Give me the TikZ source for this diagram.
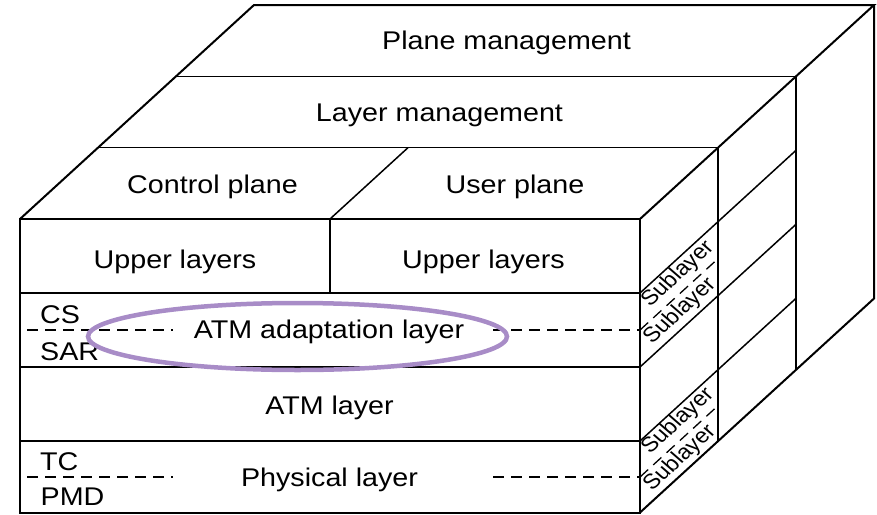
\documentclass[tikz,border=0pt]{standalone}
\usepackage{fontspec}
\setmainfont{Liberation Sans}
\definecolor{ovalpurple}{RGB}{168,140,199}
\begin{document}
\begin{tikzpicture}[x=1pt,y=-1pt,
  edge/.style={line width=1.5pt, line join=miter},
  outline/.style={line width=2pt, line join=miter},
  splitdash/.style={line width=1.3pt, dash pattern=on 11pt off 7pt},
  lbl/.style={inner sep=0pt, anchor=base, xscale=1.12, font=\fontsize{25.6}{30}\selectfont},
  leftlbl/.style={lbl, anchor=base west},
  sublbl/.style={inner sep=0pt, xscale=1.12, rotate=45.8, font=\fontsize{21}{22}\selectfont},
]
\useasboundingbox (0,0) rectangle (877,514);

% front face corners
\coordinate (F1) at (20,219);
\coordinate (F2) at (640,219);
\coordinate (F3) at (640,512.5);
\coordinate (F4) at (20,512.5);
% back corners of the top and right faces
\coordinate (T1) at (254,5);
\coordinate (T2) at (874,5);
\coordinate (R3) at (874,298.5);

% ---- top face ----
\draw[outline] (F1) -- (T1) -- (T2) -- (F2);
\draw[edge] (98,147.67) -- (718,147.67);
\draw[edge] (176,76.33) -- (796,76.33);
\draw[edge] (330,219) -- (408,147.67);

% ---- right face ----
\draw[outline] (T2) -- (R3) -- (F3);
\draw[edge] (718,147.67) -- (718,441.17);
\draw[edge] (796,76.33) -- (796,369.83);
\draw[edge] (640,293) -- (796,150.33);
\draw[edge] (640,367) -- (796,224.33);
\draw[edge] (640,441) -- (796,298.33);
\draw[splitdash] (640,330) -- (718,258.67);
\draw[splitdash] (640,477) -- (718,405.67);

% ---- front face ----
\draw[outline] (F1) rectangle (F3);
\draw[edge] (20,293) -- (640,293);
\draw[edge] (20,367) -- (640,367);
\draw[edge] (20,441) -- (640,441);
\draw[edge] (330,219) -- (330,293);
\draw[splitdash] (27,330) -- (173,330);
\draw[splitdash] (493,330) -- (640,330);
\draw[splitdash] (27,477) -- (173,477);
\draw[splitdash] (493,477) -- (640,477);

% ---- labels ----
\node[lbl] (planemgmt) at (506.5,49.5) {Plane management};
\node[lbl] (layermgmt) at (439.5,121.5) {Layer management};
\node[lbl] (ctrl) at (212.5,193) {Control plane};
\node[lbl] (user) at (515,193) {User plane};
\node[lbl] (upperL) at (175,268.5) {Upper layers};
\node[lbl] (upperR) at (483.5,268.5) {Upper layers};
\node[lbl] (aal) at (329,338) {ATM adaptation layer};
\node[lbl] (atm) at (329.5,414) {ATM layer};
\node[lbl] (phy) at (329.5,486) {Physical layer};
\node[leftlbl] (cs) at (40,323) {CS};
\node[leftlbl] (sar) at (40,360) {SAR};
\node[leftlbl] (tc) at (40,470) {TC};
\node[leftlbl] (pmd) at (40.5,505) {PMD};

\node[sublbl] (subA1) at (678,274) {Sublayer};
\node[sublbl] (subA2) at (680,311) {Sublayer};
\node[sublbl] (subP1) at (678,421) {Sublayer};
\node[sublbl] (subP2) at (680,458) {Sublayer};

% highlight round the adaptation layer
\draw[ovalpurple, line width=4.5pt] (297.5,336.5) ellipse [x radius=209.5pt, y radius=33.5pt];
\end{tikzpicture}
\end{document}
